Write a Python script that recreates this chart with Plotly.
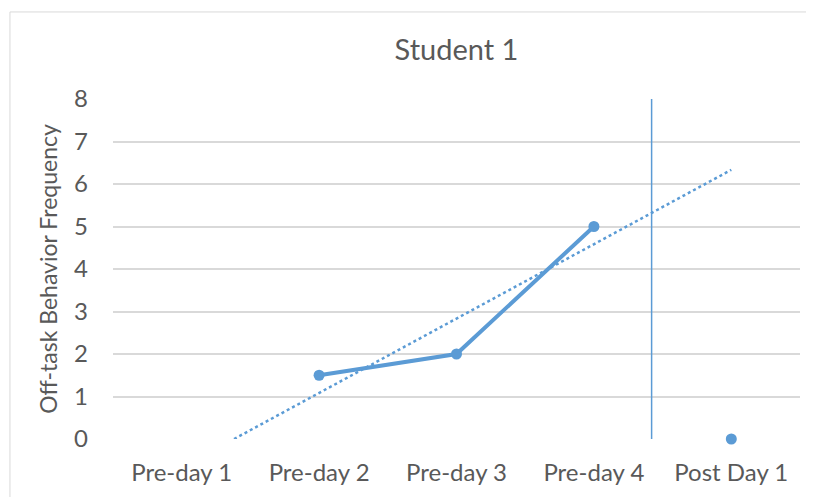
import numpy as np
import plotly.graph_objects as go

categories = ["Pre-day 1", "Pre-day 2", "Pre-day 3", "Pre-day 4", "Post Day 1"]
pre_x = [2, 3, 4]
pre_values = [1.5, 2, 5]
post_x = [5]
post_values = [0]
phase_change_x = 4.42
y_ticks = [0, 1, 2, 3, 4, 5, 6, 7, 8]

# linear trendline of the pre-phase series (Excel-style), shown from y=0 to the last category
slope, intercept = np.polyfit(pre_x, pre_values, 1)
t_start = -intercept / slope
trend_x = [t_start, len(categories)]
trend_y = [slope * x + intercept for x in trend_x]

BLUE = "#5b9bd5"
FONT = "Lato, Carlito, Calibri, sans-serif"
GREY_TXT = "#595959"

fig = go.Figure()
fig.add_trace(go.Scatter(x=trend_x, y=trend_y, mode="lines",
                         line=dict(color=BLUE, width=2.5, dash="dot"), hoverinfo="skip"))
fig.add_trace(go.Scatter(x=pre_x, y=pre_values, mode="lines+markers",
                         line=dict(color=BLUE, width=4), marker=dict(size=11, color=BLUE)))
fig.add_trace(go.Scatter(x=post_x, y=post_values, mode="markers",
                         marker=dict(size=11, color=BLUE), cliponaxis=False))

fig.add_shape(type="line", xref="x", yref="y", x0=phase_change_x, x1=phase_change_x,
              y0=0, y1=8.08, line=dict(color=BLUE, width=1.5))
# chart area border
fig.add_shape(type="rect", xref="paper", yref="paper", x0=-0.150, x1=1.05, y0=-0.3, y1=1.256,
              line=dict(color="#d9d9d9", width=1), layer="below")

fig.update_layout(
    width=806, height=489,
    margin=dict(l=105, r=14, t=91, b=58),
    paper_bgcolor="white", plot_bgcolor="white",
    showlegend=False,
    font=dict(family=FONT, color=GREY_TXT),
    title=dict(text="Student 1", x=0.5, xanchor="center", y=0.914, yanchor="middle",
               xref="paper", font=dict(size=29, color=GREY_TXT, family=FONT)),
    xaxis=dict(range=[0.5, 5.5], tickvals=list(range(1, len(categories) + 1)), ticktext=categories,
               showgrid=False, zeroline=False, showline=False, ticks="",
               tickfont=dict(size=24, color=GREY_TXT), ticklabelstandoff=17),
    yaxis=dict(range=[0, 8], tickvals=y_ticks, showgrid=True, gridcolor="#d9d9d9", gridwidth=1.5,
               zeroline=False, showline=False, ticks="",
               tickfont=dict(size=24, color=GREY_TXT), ticklabelstandoff=24,
               title=dict(text="Off-task Behavior Frequency", font=dict(size=23, color=GREY_TXT),
                          standoff=10)),
)

fig.write_html("out.html")
